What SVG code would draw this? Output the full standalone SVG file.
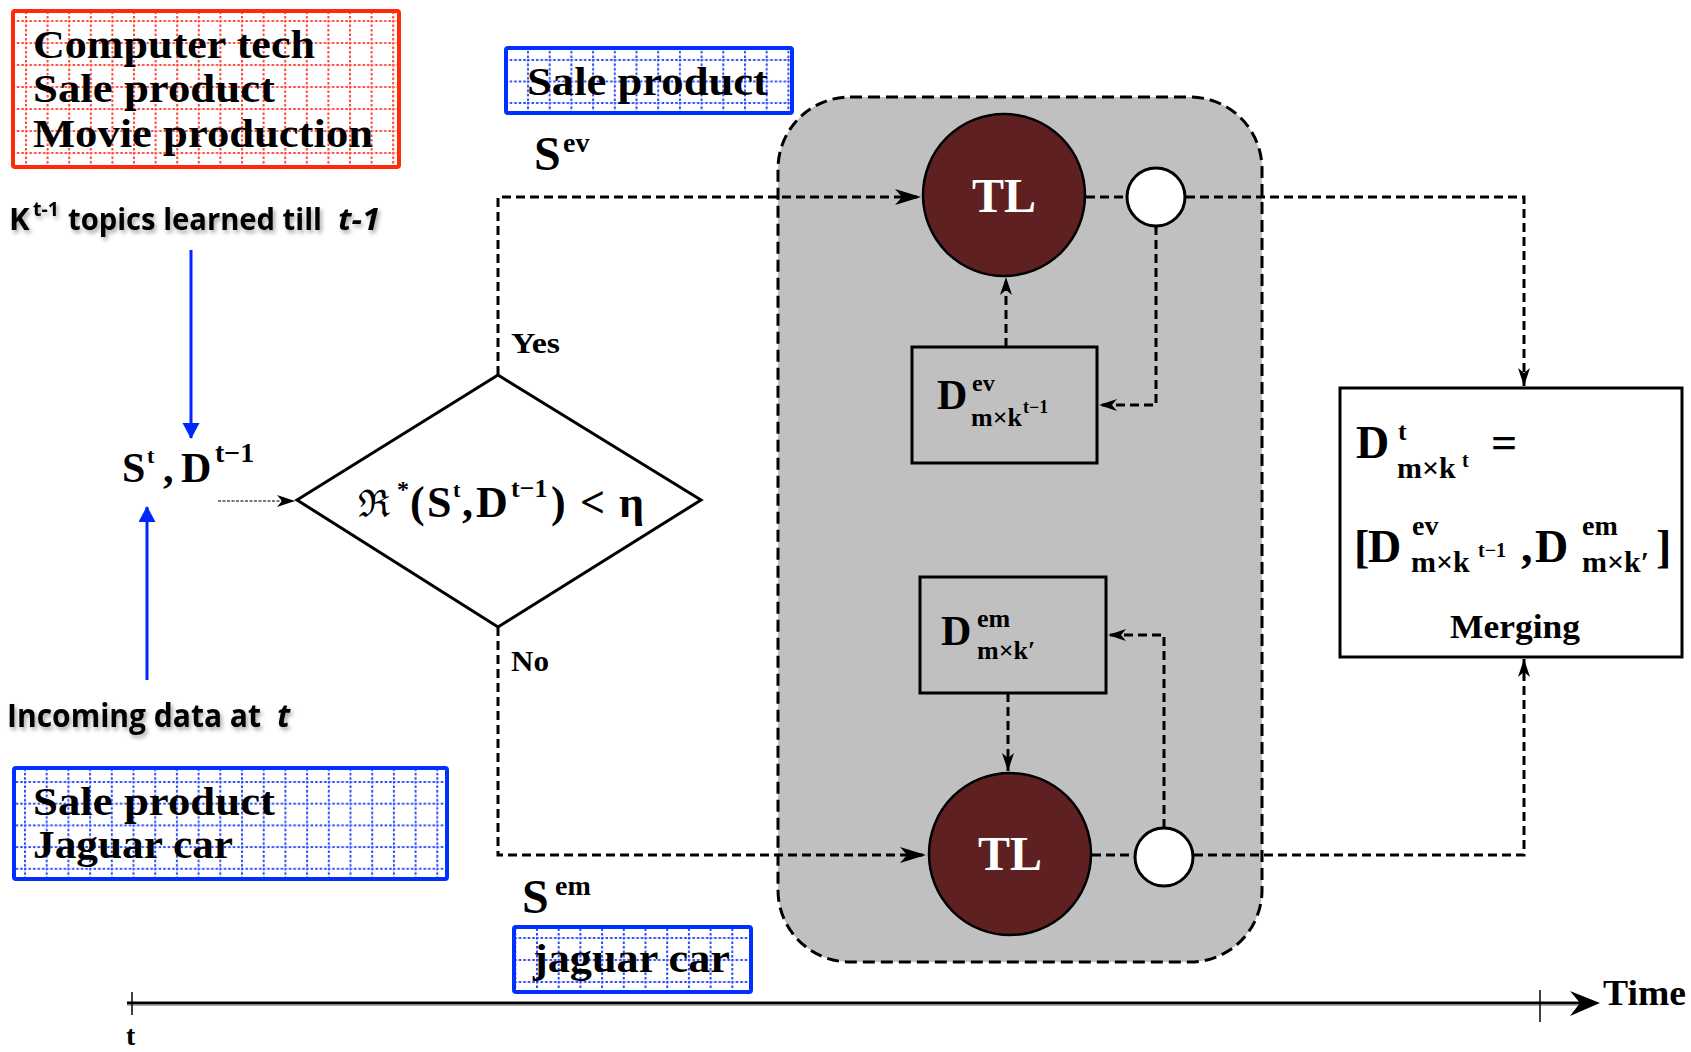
<svg xmlns="http://www.w3.org/2000/svg" width="1691" height="1052" viewBox="0 0 1691 1052">
<style>
.box{font-family:"Liberation Serif","DejaVu Serif",serif;font-weight:bold;font-size:40px;fill:#000}
.math{font-family:"Liberation Serif","DejaVu Serif",serif;font-weight:bold;fill:#000}
.cal{font-family:"Open Sans","Liberation Sans",sans-serif;font-weight:bold;fill:#000}
.dash{fill:none;stroke:#000;stroke-width:3;stroke-dasharray:9 5}
.blue{fill:none;stroke:#0026FF;stroke-width:3}
.tl{fill:#5E2020;stroke:#000;stroke-width:2.5}
.sc{fill:#fff;stroke:#000;stroke-width:3}
.rb{fill:#fff;stroke:#000;stroke-width:3}
.tlt{font-family:"Liberation Serif","DejaVu Serif",serif;font-weight:bold;font-size:48px;fill:#fff}
</style>
<defs>
<marker id="ah" markerUnits="userSpaceOnUse" markerWidth="28" markerHeight="18" refX="26" refY="8" orient="auto">
<path d="M0,0 L26,8 L0,16 L7,8 Z" fill="#000"/>
</marker>
<marker id="ahs" markerUnits="userSpaceOnUse" markerWidth="20" markerHeight="14" refX="18" refY="6" orient="auto">
<path d="M0,0 L18,6 L0,12 L5,6 Z" fill="#000"/>
</marker>
<marker id="bah" markerUnits="userSpaceOnUse" markerWidth="20" markerHeight="18" refX="15" refY="8.5" orient="auto">
<path d="M0,0 L16,8.5 L0,17 Z" fill="#0026FF"/>
</marker>
<pattern id="gr" patternUnits="userSpaceOnUse" x="25" y="20" width="21.6" height="22">
<path d="M1,0 V22 M0,1 H21.6" stroke="#FF4A3A" stroke-width="2" stroke-dasharray="2.5 2"/>
</pattern>
<pattern id="gb1" patternUnits="userSpaceOnUse" x="527" y="59" width="21.7" height="21.5">
<path d="M1,0 V21.5 M0,1 H21.7" stroke="#2A4BFF" stroke-width="2" stroke-dasharray="2.5 2"/>
</pattern>
<pattern id="gb2" patternUnits="userSpaceOnUse" x="24" y="781" width="21.7" height="21.7">
<path d="M1,0 V21.7 M0,1 H21.7" stroke="#2A4BFF" stroke-width="2" stroke-dasharray="2.5 2"/>
</pattern>
<pattern id="gb3" patternUnits="userSpaceOnUse" x="536" y="937" width="21.7" height="22">
<path d="M1,0 V22 M0,1 H21.7" stroke="#2A4BFF" stroke-width="2" stroke-dasharray="2.5 2"/>
</pattern>
<filter id="sh" x="-10%" y="-30%" width="120%" height="160%">
<feDropShadow dx="2" dy="3" stdDeviation="2" flood-color="#000" flood-opacity="0.35"/>
</filter>
</defs>

<g id="container">
<rect x="778" y="97" width="484" height="865" rx="72" fill="#C0C0C0" stroke="#000" stroke-width="3" stroke-dasharray="12 6"/>
</g>

<g id="connectors">
<path class="dash" d="M498,375 V197 H921" marker-end="url(#ah)"/>
<path class="dash" d="M498,627 V855 H926" marker-end="url(#ah)"/>
<path class="dash" d="M1086,197 H1127"/>
<path class="dash" d="M1186,197 H1524 V386" marker-end="url(#ahs)"/>
<path class="dash" d="M1156,226 V405 H1099" marker-end="url(#ahs)"/>
<path class="dash" d="M1006,347 V277" marker-end="url(#ahs)"/>
<path class="dash" d="M1164,828 V635 H1108" marker-end="url(#ahs)"/>
<path class="dash" d="M1008,693 V771" marker-end="url(#ahs)"/>
<path class="dash" d="M1092,855 H1135"/>
<path class="dash" d="M1194,855 H1524 V659" marker-end="url(#ahs)"/>
<path d="M218,501 H295" fill="none" stroke="#777" stroke-width="2" stroke-dasharray="3 1.5" marker-end="url(#ahs)"/>
<path class="blue" d="M191,250 V438" marker-end="url(#bah)"/>
<path class="blue" d="M147,680 V507" marker-end="url(#bah)"/>
</g>

<g id="red-box">
<rect x="13" y="11" width="386" height="156" fill="#fff"/>
<rect x="13" y="11" width="386" height="156" fill="url(#gr)"/>
<rect x="13" y="11" width="386" height="156" fill="none" stroke="#FF2A0A" stroke-width="4" rx="2"/>
<text class="box" x="33" y="58" textLength="282" lengthAdjust="spacingAndGlyphs">Computer tech</text>
<text class="box" x="33" y="102" textLength="242" lengthAdjust="spacingAndGlyphs">Sale product</text>
<text class="box" x="33" y="147" textLength="340" lengthAdjust="spacingAndGlyphs">Movie production</text>
</g>

<g id="blue-top">
<rect x="506" y="48" width="286" height="65" fill="#fff"/>
<rect x="506" y="48" width="286" height="65" fill="url(#gb1)"/>
<rect x="506" y="48" width="286" height="65" fill="none" stroke="#0030FF" stroke-width="4" rx="2"/>
<text class="box" x="527" y="95" textLength="241" lengthAdjust="spacingAndGlyphs">Sale product</text>
</g>

<g id="blue-left">
<rect x="14" y="768" width="433" height="111" fill="#fff"/>
<rect x="14" y="768" width="433" height="111" fill="url(#gb2)"/>
<rect x="14" y="768" width="433" height="111" fill="none" stroke="#0030FF" stroke-width="4" rx="2"/>
<text class="box" x="33" y="815" textLength="242" lengthAdjust="spacingAndGlyphs">Sale product</text>
<text class="box" x="33" y="858" textLength="200" lengthAdjust="spacingAndGlyphs">Jaguar car</text>
</g>

<g id="blue-jaguar">
<rect x="514" y="927" width="237" height="65" fill="#fff"/>
<rect x="514" y="927" width="237" height="65" fill="url(#gb3)"/>
<rect x="514" y="927" width="237" height="65" fill="none" stroke="#0030FF" stroke-width="4" rx="2"/>
<text class="box" x="533" y="972" textLength="197" lengthAdjust="spacingAndGlyphs">jaguar car</text>
</g>

<g id="label-k" filter="url(#sh)">
<text class="cal" x="9" y="230" font-size="31">K</text>
<text class="cal" x="33" y="216" font-size="20" textLength="26" lengthAdjust="spacingAndGlyphs">t-1</text>
<text class="cal" x="68" y="230" font-size="31" textLength="254" lengthAdjust="spacingAndGlyphs">topics learned till</text>
<text class="cal" x="338" y="230" font-size="31" font-style="italic" textLength="42" lengthAdjust="spacingAndGlyphs">t-1</text>
</g>

<g id="label-incoming" filter="url(#sh)">
<text class="cal" x="7" y="727" font-size="32" textLength="254" lengthAdjust="spacingAndGlyphs">Incoming data at</text>
<text class="cal" x="277" y="727" font-size="32" font-style="italic">t</text>
</g>

<g id="input">
<text class="math" font-size="42"><tspan x="122" y="482">S</tspan><tspan x="147" y="463" font-size="22">t</tspan><tspan x="163" y="482">,</tspan><tspan x="181" y="482">D</tspan><tspan x="215" y="462" font-size="28">t−1</tspan></text>
</g>

<g id="decision">
<polygon points="297,500 498,375 701,500 498,627" fill="#fff" stroke="#000" stroke-width="3"/>
<text class="math" font-size="44"><tspan x="358" y="517" font-family="DejaVu Serif,serif" font-weight="normal" font-size="38">ℜ</tspan><tspan x="397" y="497" font-size="24">*</tspan><tspan x="410" y="517">(</tspan><tspan x="427" y="517">S</tspan><tspan x="453" y="497" font-size="22">t</tspan><tspan x="462" y="517">,</tspan><tspan x="476" y="517">D</tspan><tspan x="511" y="497" font-size="26">t−1</tspan><tspan x="551" y="517">)</tspan><tspan x="580" y="517">&lt;</tspan><tspan x="619" y="517">η</tspan></text>
</g>

<g id="labels">
<text class="math" x="511" y="353" font-size="30" textLength="49" lengthAdjust="spacingAndGlyphs">Yes</text>
<text class="math" x="511" y="671" font-size="30" textLength="38" lengthAdjust="spacingAndGlyphs">No</text>
<text class="math" font-size="48"><tspan x="534" y="170">S</tspan><tspan x="563" y="152" font-size="28">ev</tspan></text>
<text class="math" font-size="48"><tspan x="522" y="913">S</tspan><tspan x="555" y="895" font-size="28">em</tspan></text>
</g>

<g id="tl-top">
<circle class="tl" cx="1004" cy="195" r="81"/>
<text class="tlt" x="1004" y="212" text-anchor="middle">TL</text>
</g>
<g id="junction-top"><circle class="sc" cx="1156" cy="197" r="29"/></g>

<g id="tl-bottom">
<circle class="tl" cx="1010" cy="854" r="81"/>
<text class="tlt" x="1010" y="870" text-anchor="middle">TL</text>
</g>
<g id="junction-bottom"><circle class="sc" cx="1164" cy="857" r="29"/></g>

<g id="d-ev">
<rect class="rb" x="912" y="347" width="185" height="116" style="fill:#C0C0C0"/>
<text class="math" font-size="42"><tspan x="937" y="409">D</tspan><tspan x="972" y="391" font-size="24">ev</tspan><tspan x="971" y="426" font-size="26">m×k</tspan><tspan x="1023" y="413" font-size="18">t−1</tspan></text>
</g>

<g id="d-em">
<rect class="rb" x="920" y="577" width="186" height="116" style="fill:#C0C0C0"/>
<text class="math" font-size="42"><tspan x="941" y="645">D</tspan><tspan x="977" y="627" font-size="26">em</tspan><tspan x="977" y="659" font-size="26">m×k′</tspan></text>
</g>

<g id="merging">
<rect class="rb" x="1340" y="388" width="342" height="269"/>
<text class="math" font-size="46"><tspan x="1356" y="458">D</tspan><tspan x="1398" y="440" font-size="26">t</tspan><tspan x="1397" y="478" font-size="30">m×k</tspan><tspan x="1462" y="467" font-size="20">t</tspan><tspan x="1491" y="458">=</tspan></text>
<text class="math" font-size="46"><tspan x="1354" y="562">[</tspan><tspan x="1368" y="562">D</tspan><tspan x="1412" y="535" font-size="28">ev</tspan><tspan x="1411" y="572" font-size="30">m×k</tspan><tspan x="1478" y="557" font-size="20">t−1</tspan><tspan x="1521" y="562">,</tspan><tspan x="1535" y="562">D</tspan><tspan x="1582" y="535" font-size="28">em</tspan><tspan x="1582" y="572" font-size="30">m×k′</tspan><tspan x="1656" y="562">]</tspan></text>
<text class="math" x="1515" y="638" font-size="34" text-anchor="middle" textLength="130" lengthAdjust="spacingAndGlyphs">Merging</text>
</g>

<g id="time-axis">
<line x1="127" y1="1003" x2="1590" y2="1003" stroke="#000" stroke-width="3"/>
<line x1="127" y1="1005" x2="1590" y2="1005" stroke="#888" stroke-width="1.5"/>
<line x1="132" y1="992" x2="132" y2="1015" stroke="#000" stroke-width="1.5"/>
<line x1="1540" y1="990" x2="1540" y2="1022" stroke="#000" stroke-width="1.5"/>
<path d="M1570,991 L1600,1003 L1570,1016 L1580,1003 Z" fill="#000"/>
<text class="math" x="1603" y="1005" font-size="36" textLength="83" lengthAdjust="spacingAndGlyphs">Time</text>
<text class="math" x="126" y="1045" font-size="28">t</text>
</g>
</svg>
